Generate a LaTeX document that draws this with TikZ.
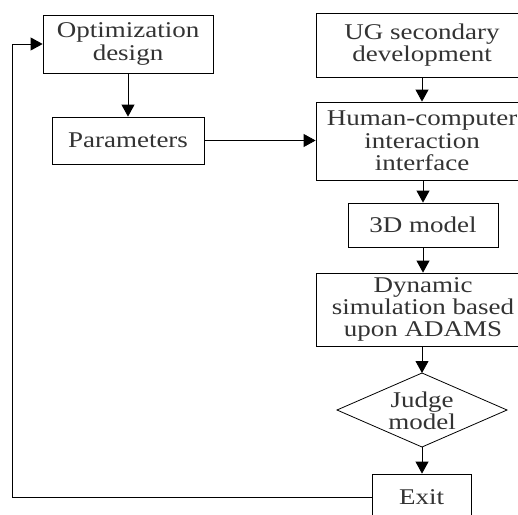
\documentclass[tikz,border=0pt]{standalone}
\usepackage{fontspec}
\setmainfont{Liberation Serif}[FakeStretch=1.2]
\usetikzlibrary{arrows.meta,shapes.geometric}
\definecolor{txt}{HTML}{333333}
\tikzset{
  box/.style={draw=black, line width=0.8pt, rectangle, inner sep=0pt, align=center,
    text=txt, font=\fontsize{22.5}{22.3}\selectfont},
  dia/.style={draw=black, line width=0.8pt, diamond, inner sep=0pt, align=center, aspect=2.3,
    text=txt, font=\fontsize{22.5}{22.3}\selectfont},
  arr/.style={line width=0.8pt, -{Triangle[width=13pt,length=12pt]}},
  ln/.style={line width=0.8pt, draw=black!85}
}
\begin{document}
\begin{tikzpicture}[x=1pt,y=-1pt]
\useasboundingbox (0,0) rectangle (518,514);
\clip (0,0) rectangle (518,514);
\node[box, minimum width=170pt, minimum height=58pt] (opt) at (128,44) {Optimization\\design};
\node[box, minimum width=152pt, minimum height=47pt] (par) at (128,140.5) {Parameters};
\node[box, minimum width=212pt, minimum height=64pt] (ug) at (422,45) {UG secondary\\development};
\node[box, minimum width=212pt, minimum height=78pt] (hci) at (422,141) {Human-computer\\interaction\\interface};
\node[box, minimum width=150pt, minimum height=44pt] (m3d) at (423,225) {3D model};
\node[box, minimum width=214pt, minimum height=73pt] (dyn) at (423,309.5) {Dynamic\\simulation based\\upon ADAMS};
\draw[line width=0.8pt] (337,410) coordinate (dl) -- (422,373) coordinate (dt) -- (507,410) coordinate (dr) -- (422,447) coordinate (db) -- cycle;
\node[text=txt, font=\fontsize{22.5}{22.3}\selectfont, align=center, inner sep=0pt] (judge) at (422,411) {Judge\\model};
\node[box, minimum width=99pt, minimum height=46pt] (exit) at (421.5,497) {Exit};
\coordinate (c1) at (12.5,497);
\coordinate (c2) at (12.5,44);
\draw[arr] (opt) -- (par);
\draw[arr] (ug) -- (hci);
\draw[arr] (par.east) -- (hci.west |- par.east);
\draw[arr] (hci.south -| m3d) -- (m3d.north);
\draw[arr] (m3d) -- (dyn.north -| m3d);
\draw[arr] (dyn.south -| dt) -- (dt);
\draw[arr] (db) -- (exit.north -| db);
\draw[arr] (exit.west) -- (c1) -- (c2) -- (opt.west);
\end{tikzpicture}
\end{document}
